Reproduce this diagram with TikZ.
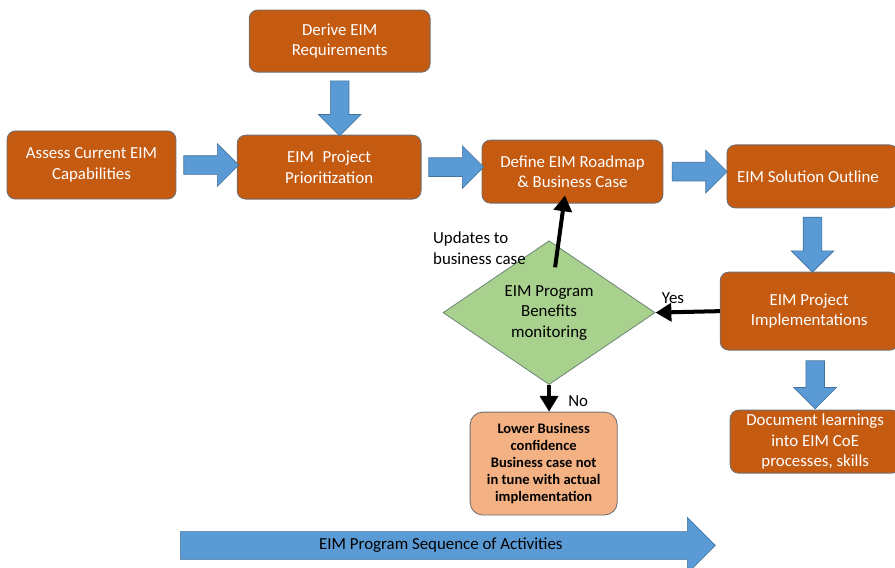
\documentclass[tikz,border=0pt]{standalone}
\usepackage{fontspec}
\setmainfont{Carlito}
\usepackage{tikz}
\usetikzlibrary{arrows.meta, shapes.geometric, shapes.arrows, calc}

\definecolor{boxorange}{HTML}{C55A11}
\definecolor{boxedge}{HTML}{6E6E74}
\definecolor{flowblue}{HTML}{5B9BD5}
\definecolor{flowedge}{HTML}{41719C}
\definecolor{checkgreen}{HTML}{A9D18E}
\definecolor{checkedge}{HTML}{70897A}
\definecolor{riskpeach}{HTML}{F4B183}

\tikzset{
	stage/.style={rectangle, rounded corners=8pt, draw=boxedge, line width=0.8pt, fill=boxorange,
		text=white, align=center, inner sep=2pt, font=\fontsize{16}{19.5}\selectfont},
	check/.style={diamond, draw=checkedge, line width=0.8pt, fill=checkgreen, align=center,
		inner sep=0pt, font=\fontsize{16}{19.5}\selectfont},
	risk/.style={rectangle, rounded corners=12pt, draw=boxedge, line width=0.8pt, fill=riskpeach,
		align=center, inner sep=2pt, font=\bfseries\fontsize{13.8}{16}\selectfont},
	flowarrow/.style={single arrow, draw=flowedge, line width=0.6pt, fill=flowblue, inner sep=0pt,
		text height=0.3cm, text depth=0.3cm, minimum height=1.83cm, minimum width=1.4cm,
		single arrow head extend=0.4cm, sloped, allow upside down},
	decision/.style={line width=3.8pt, -{Triangle[width=17pt,length=15pt]}},
	note/.style={font=\fontsize{16}{19.5}\selectfont, inner sep=0pt}
}

\begin{document}
\begin{tikzpicture}[>=latex]
		\useasboundingbox (0,0) rectangle (29.83,-18.93);

		\node[stage, minimum width=6.03cm, minimum height=2.07cm](der) at (11.32,-1.37) {Derive EIM\\Requirements};
		\node[stage, minimum width=5.63cm, minimum height=2.27cm](ass) at (3.05,-5.5) {Assess Current EIM\\Capabilities};
		\node[stage, minimum width=6.13cm, minimum height=2.13cm](pri) at (10.97,-5.57) {EIM\enspace Project\\Prioritization};
		\node[stage, minimum width=6.03cm, minimum height=2.1cm](def) at (19.08,-5.72) {Define EIM Roadmap\\\& Business Case};
		\node[stage, minimum width=5.7cm, minimum height=2.1cm](sol) at (27.08,-5.88) {EIM Solution Outline\hspace{0.3cm}};
		\node[stage, minimum width=5.93cm, minimum height=2.6cm](imp) at (26.97,-10.37) {EIM Project\\Implementations\hspace{0.2cm}};
		\node[stage, minimum width=5.67cm, minimum height=2.1cm](doc) at (27.17,-14.72) {Document learnings\\into EIM CoE\\processes, skills\hspace{0.2cm}};

		\node[check, minimum width=7.07cm, minimum height=4.5cm](mon) at (18.3,-10.42) {EIM Program\\Benefits\\monitoring};
		\node[risk, minimum width=4.9cm, minimum height=3.43cm](low) at (18.12,-15.45) {Lower Business\\confidence\\Business case not\\in tune with actual\\implementation};

		\node[single arrow, draw=flowedge, line width=0.6pt, fill=flowblue, anchor=tail,
			minimum height=17.83cm, minimum width=1.83cm, single arrow head extend=0.47cm,
			inner sep=0pt, text height=0.57cm, text depth=0.33cm,
			font=\fontsize{16}{19.5}\selectfont](seq) at (6.0,-18.18) {EIM Program Sequence of Activities};

		\path (der.south) -- node[flowarrow]{} (der.south |- pri.north);
		\path (ass.east) -- node[flowarrow]{} (ass.east -| pri.west);
		\path (pri.east) -- node[flowarrow]{} (pri.east -| def.west);
		\path (def.east) -- node[flowarrow]{} (def.east -| sol.west);
		\path (sol.south) -- node[flowarrow]{} (sol.south |- imp.north);
		\path (doc.north |- imp.south) -- node[flowarrow, minimum height=1.6cm]{} (doc.north);

		\draw[decision]([xshift=0.2cm,yshift=-0.9cm]mon.north) -- ([xshift=-0.25cm,yshift=0.27cm]def.south);
		\draw[decision](imp.west) -- (mon.east);
		\draw[decision](mon.south) -- (mon.south |- low.north);

		\node[note, align=left, anchor=west](upd) at (14.43,-8.27) {Updates to\\business case};
		\node[note](yes) at (22.43,-9.93) {Yes};
		\node[note](no) at (19.27,-13.37) {No};
\end{tikzpicture}
\end{document}
